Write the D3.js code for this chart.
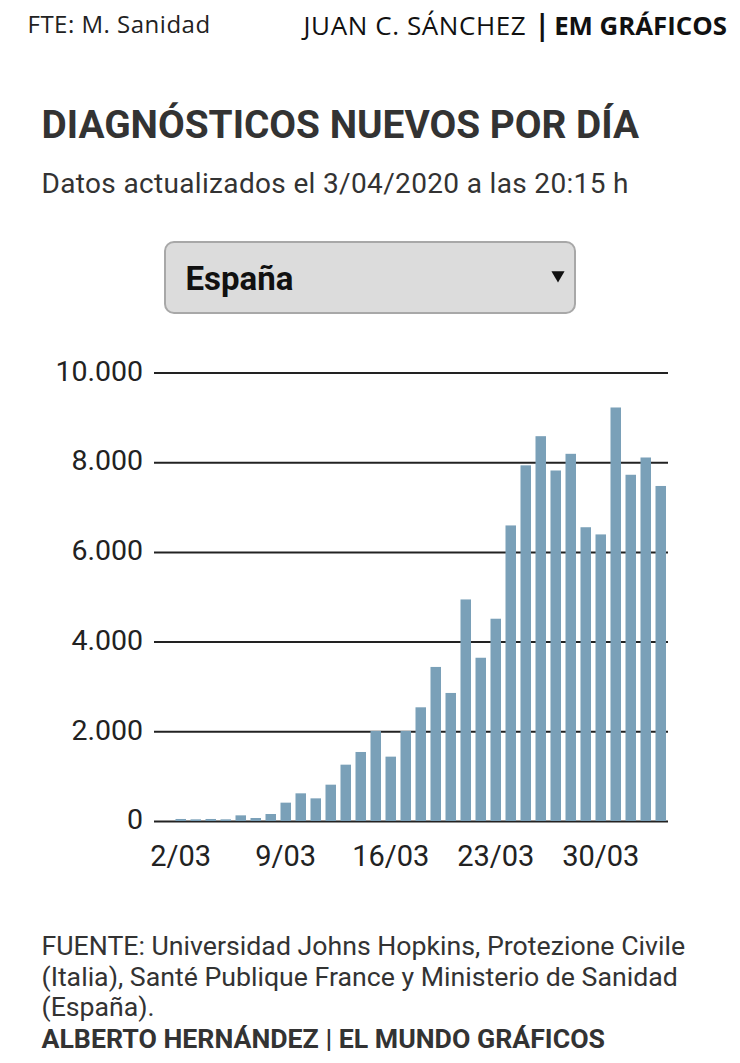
<!DOCTYPE html>
<html>
<head>
<meta charset="utf-8">
<script src="https://cdn.jsdelivr.net/npm/d3@7"></script>
<style>
  html, body { margin: 0; padding: 0; background: #fff; }
  svg { display: block; }
  text { font-family: Roboto, sans-serif; }
  .domain { display: none; }
</style>
</head>
<body>
<script>
const days = ['2/03', '3/03', '4/03', '5/03', '6/03', '7/03', '8/03', '9/03', '10/03', '11/03', '12/03',
  '13/03', '14/03', '15/03', '16/03', '17/03', '18/03', '19/03', '20/03', '21/03', '22/03', '23/03',
  '24/03', '25/03', '26/03', '27/03', '28/03', '29/03', '30/03', '31/03', '1/04', '2/04', '3/04'];
const newCases = [45, 37, 45, 37, 126, 67, 156, 409, 617, 505, 810,
  1256, 1539, 2007, 1435, 2007, 2535, 3435, 2855, 4940, 3640, 4510,
  6590, 7930, 8580, 7815, 8187, 6550, 6390, 9220, 7720, 8105, 7470];
const dayTicks = ['2/03', '9/03', '16/03', '23/03', '30/03'];
const valueTicks = [0, 2000, 4000, 6000, 8000, 10000];
const footerLines = [
  'FUENTE: Universidad Johns Hopkins, Protezione Civile',
  '(Italia), Santé Publique France y Ministerio de Sanidad',
  '(España).'
];

const svgValues = { width: 740, height: 1063, left: 154, right: 668, top: 372.5, bottom: 821 };

const svg = d3.select('body').append('svg')
  .attr('width', svgValues.width)
  .attr('height', svgValues.height);

// header
svg.append('text').text('FTE: M. Sanidad')
  .attr('x', 27.5).attr('y', 33)
  .style('font-family', '"Open Sans"').style('font-size', '24px').style('letter-spacing', '0.5px').attr('fill', '#222');

svg.append('text').text('JUAN C. SÁNCHEZ')
  .attr('x', 303.5).attr('y', 35)
  .style('font-family', '"Open Sans"').style('font-size', '26px').style('letter-spacing', '0.6px').attr('fill', '#111');
svg.append('text').text('|')
  .attr('x', 534.5).attr('y', 35)
  .style('font-family', '"Open Sans"').style('font-size', '28px').style('font-weight', 700).attr('fill', '#111');
svg.append('text').text('EM GRÁFICOS')
  .attr('x', 727).attr('y', 35).attr('text-anchor', 'end')
  .style('font-family', '"Open Sans"').style('font-size', '25.8px').style('font-weight', 700).attr('fill', '#111');

// title
svg.append('text').text('DIAGNÓSTICOS NUEVOS POR DÍA')
  .attr('x', 41.5).attr('y', 138)
  .style('font-size', '38.8px').style('font-weight', 700).attr('fill', '#333');

svg.append('text').text('Datos actualizados el 3/04/2020 a las 20:15 h')
  .attr('x', 41.5).attr('y', 193)
  .style('font-size', '28px').style('letter-spacing', '0.34px').attr('fill', '#333');

// selector
svg.append('rect')
  .attr('x', 165).attr('y', 242).attr('width', 410).attr('height', 71).attr('rx', 9)
  .attr('fill', '#dcdcdc').attr('stroke', '#a8a8a8').attr('stroke-width', 2);
svg.append('text').text('España')
  .attr('x', 185.5).attr('y', 290)
  .style('font-size', '33px').style('font-weight', 700).attr('fill', '#111');
svg.append('path')
  .attr('d', d3.symbol(d3.symbolTriangle, 75)())
  .attr('transform', 'translate(558,275) rotate(180)')
  .attr('fill', '#111');

// scales and axes
const xScale = d3.scaleBand()
  .domain(days)
  .range([173.25, svgValues.right + 0.25])
  .paddingInner(0.3)
  .paddingOuter(0.15);

const yScale = d3.scaleLinear()
  .domain([0, 10000])
  .range([svgValues.bottom, svgValues.top]);

const yAxis = d3.axisLeft(yScale)
  .tickValues(valueTicks)
  .tickSize(svgValues.left - svgValues.right)
  .tickPadding(11)
  .tickFormat(d => d3.format(',')(d).replace(',', '.'));

const yGroup = svg.append('g')
  .attr('transform', 'translate(' + svgValues.left + ',0)')
  .call(yAxis);
yGroup.selectAll('.tick line').attr('x2', svgValues.right - svgValues.left)
  .attr('stroke', '#222').attr('stroke-width', 2);
yGroup.selectAll('.tick text')
  .attr('x', -11)
  .attr('dy', '0.27em')
  .style('font-family', 'Roboto').style('font-size', '28.5px').attr('fill', '#222');

// bars
svg.selectAll('.bar')
  .data(days)
  .enter()
  .append('rect')
  .attr('class', 'bar')
  .attr('x', d => xScale(d))
  .attr('width', xScale.bandwidth())
  .attr('y', (d, i) => yScale(newCases[i]))
  .attr('height', (d, i) => yScale(0) - yScale(newCases[i]))
  .attr('fill', '#7aa0b8');

const xAxis = d3.axisBottom(xScale)
  .tickValues(dayTicks)
  .tickSize(0)
  .tickPadding(24);

const xGroup = svg.append('g')
  .attr('transform', 'translate(0,' + svgValues.bottom + ')')
  .call(xAxis);
xGroup.selectAll('.tick text')
  .style('font-family', 'Roboto').style('font-size', '29px').attr('fill', '#222');

// footer
svg.selectAll('.footer')
  .data(footerLines)
  .enter()
  .append('text')
  .attr('class', 'footer')
  .text(d => d)
  .attr('x', 41.5)
  .attr('y', (d, i) => 955 + i * 30.5)
  .style('font-size', '26.7px').attr('fill', '#333');

svg.append('text').text('ALBERTO HERNÁNDEZ | EL MUNDO GRÁFICOS')
  .attr('x', 41.5).attr('y', 1047.5)
  .style('font-size', '26.7px').style('font-weight', 700).attr('fill', '#333');
</script>
</body>
</html>
